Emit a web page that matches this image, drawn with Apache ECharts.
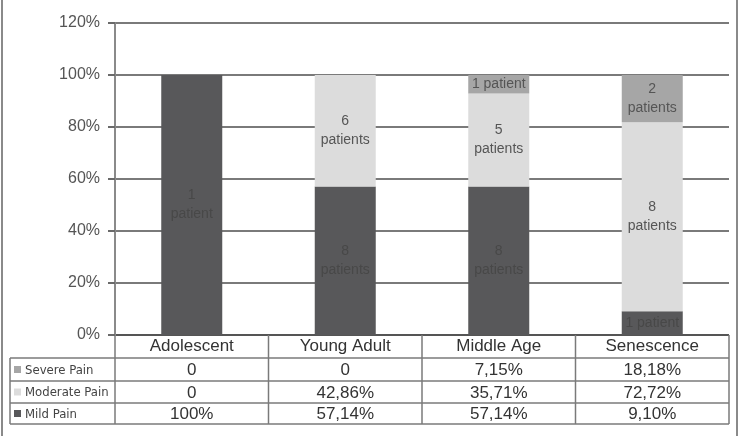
<!DOCTYPE html>
<html>
<head>
<meta charset="utf-8">
<script src="https://cdn.jsdelivr.net/npm/echarts@6/dist/echarts.min.js"></script>
<style>
  html, body { margin: 0; padding: 0; background: #fff; }
  #chart { width: 740px; height: 436px; }
</style>
</head>
<body>
<div id="chart"></div>
<script>
// categorias y datos (porcentajes)
const categories = ['Adolescent', 'Young Adult', 'Middle Age', 'Senescence'];
const mildPain = [100, 57.14, 57.14, 9.10];
const moderatePain = [0, 42.86, 35.71, 72.72];
const severePain = [0, 0, 7.15, 18.18];
// etiquetas dentro de las barras
const mildLabels = ['1\npatient', '8\npatients', '8\npatients', '1 patient'];
const moderateLabels = ['', '6\npatients', '5\npatients', '8\npatients'];
const severeLabels = ['', '', '1 patient', '2\npatients'];
// textos de la tabla
const severeText = ['0', '0', '7,15%', '18,18%'];
const moderateText = ['0', '42,86%', '35,71%', '72,72%'];
const mildText = ['100%', '57,14%', '57,14%', '9,10%'];
const yTicks = [0, 20, 40, 60, 80, 100, 120];

const colors = { mild: '#58585a', moderate: '#dcdcdc', severe: '#a6a6a6' };
const font = '"Liberation Sans", Arial, sans-serif';
const narrow = '"Liberation Sans Narrow", "DejaVu Sans Condensed", Arial, sans-serif';

const chart = echarts.init(document.getElementById('chart'));

function seriesOf(name, data, labels, color, txtColor) {
    return {
        name: name, type: 'bar', stack: 'pain', barWidth: 61,
        data: data,
        itemStyle: { color: color },
        label: {
            show: true, position: 'inside', color: txtColor,
            fontFamily: font, fontSize: 14, lineHeight: 19,
            formatter: p => labels[p.dataIndex]
        }
    };
}

let option = {
    animation: false,
    grid: { left: 115, right: 11, top: 23, bottom: 101 },
    xAxis: {
        type: 'category', data: categories,
        axisLine: { show: false },
        axisTick: { show: false },
        axisLabel: { margin: 3, color: '#333', fontFamily: font, fontSize: 17 }
    },
    yAxis: {
        type: 'value', min: 0, max: 120, interval: 20,
        axisLine: { show: true, lineStyle: { color: '#8a8a8a', width: 2 } },
        axisTick: { show: true, length: 7, lineStyle: { color: '#6a6a6a', width: 2 } },
        axisLabel: { formatter: '{value}%', color: '#555', fontFamily: font, fontSize: 16, margin: 15 },
        splitLine: { lineStyle: { color: '#7a7a7a', width: 2 } }
    },
    series: [
        seriesOf('Mild Pain', mildPain, mildLabels, colors.mild, '#484848'),
        seriesOf('Moderate Pain', moderatePain, moderateLabels, colors.moderate, '#555'),
        seriesOf('Severe Pain', severePain, severeLabels, colors.severe, '#555')
    ]
};
chart.setOption(option);

// tabla de datos debajo del grafico
const tableLeft = 10, colLeft = 115, tableRight = 729;
const rowTops = [335, 358, 381, 403, 424];
const rows = [
    { name: 'Severe Pain', color: colors.severe, text: severeText },
    { name: 'Moderate Pain', color: colors.moderate, text: moderateText },
    { name: 'Mild Pain', color: colors.mild, text: mildText }
];
const lineStyle = { stroke: '#7a7a7a', lineWidth: 1.5 };
let g = [];
// bordes exteriores de la imagen
g.push({ type: 'line', shape: { x1: 2, y1: 0, x2: 2, y2: 436 }, style: { stroke: '#8a8a8a', lineWidth: 2 } });
g.push({ type: 'line', shape: { x1: 737, y1: 0, x2: 737, y2: 436 }, style: { stroke: '#8a8a8a', lineWidth: 2 } });
// lineas horizontales
g.push({ type: 'line', shape: { x1: colLeft, y1: rowTops[0], x2: tableRight, y2: rowTops[0] }, style: { stroke: '#555', lineWidth: 2 } });
for (let i = 1; i < rowTops.length; i++) {
    g.push({ type: 'line', shape: { x1: tableLeft, y1: rowTops[i], x2: tableRight, y2: rowTops[i] }, style: lineStyle });
}
// lineas verticales
let colEdges = [colLeft];
const step = (tableRight - colLeft) / categories.length;
for (let i = 1; i <= categories.length; i++) colEdges.push(colLeft + step * i);
colEdges.forEach(x => {
    g.push({ type: 'line', shape: { x1: x, y1: rowTops[0], x2: x, y2: rowTops[4] }, style: lineStyle });
});
g.push({ type: 'line', shape: { x1: tableLeft, y1: rowTops[1], x2: tableLeft, y2: rowTops[4] }, style: lineStyle });

rows.forEach((r, ri) => {
    const yc = (rowTops[ri + 1] + rowTops[ri + 2]) / 2;
    g.push({ type: 'rect', shape: { x: 14, y: yc - 3.5, width: 7, height: 7 }, style: { fill: r.color } });
    g.push({ type: 'text', x: 25, y: yc + 1, style: { text: r.name, fill: '#444', font: '13px ' + narrow, textVerticalAlign: 'middle' } });
    r.text.forEach((t, ci) => {
        const xc = chart.convertToPixel({ xAxisIndex: 0 }, categories[ci]);
        g.push({ type: 'text', x: xc, y: yc + 1, style: { text: t, fill: '#333', font: '17px ' + font, textAlign: 'center', textVerticalAlign: 'middle' } });
    });
});
chart.setOption({ graphic: g });
</script>
</body>
</html>
